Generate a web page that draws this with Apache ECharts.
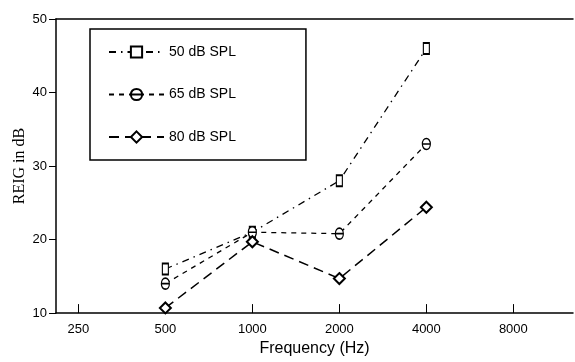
<!DOCTYPE html>
<html>
<head>
<meta charset="utf-8">
<script src="https://cdn.jsdelivr.net/npm/echarts@6/dist/echarts.min.js"></script>
<style>html,body{margin:0;padding:0;background:#fff}#c{width:575px;height:362px}</style>
</head>
<body>
<div id="c"></div>
<script>
const frequencies = [500, 1000, 2000, 4000];
const tickFrequencies = [250, 500, 1000, 2000, 4000, 8000];
const seriesNames = ['50 dB SPL', '65 dB SPL', '80 dB SPL'];
const spl50 = [16, 21, 28, 46];
const spl65 = [14, 21, 20.8, 33];
const spl80 = [10.7, 19.7, 14.7, 24.4];
const yTicks = [10, 20, 30, 40, 50];

const lg = v => Math.log2(v);
const pts = arr => frequencies.map((f, i) => [lg(f), arr[i]]);
const thetaPath = 'path://M5,0 C8,0 10,3 10,7 C10,11 8,14 5,14 C2,14 0,11 0,7 C0,3 2,0 5,0 Z M0.5,7 L9.5,7';

const sans = 'Liberation Sans, Arial, Helvetica, sans-serif';
const chart = echarts.init(document.getElementById('c'), null, {renderer: 'canvas'});
chart.setOption({
  backgroundColor: '#fff',
  animation: false,
  grid: {left: 56, right: 2, top: 19, bottom: 42, containLabel: false},
  legend: {
    left: 90, top: 29,
    orient: 'vertical',
    itemWidth: 55, itemHeight: 14, itemGap: 28.5,
    padding: [16, 70, 16, 18],
    borderColor: '#000', borderWidth: 1.5,
    textStyle: {fontFamily: sans, fontSize: 14, color: '#000'},
    data: seriesNames
  },
  xAxis: [{
    type: 'value',
    min: lg(250) - 22.5 / 87.5,
    max: 13 + 57 / 87.5,
    name: 'Frequency (Hz)',
    nameLocation: 'middle',
    nameGap: 25,
    nameTextStyle: {fontFamily: sans, fontSize: 16, color: '#000'},
    axisLine: {lineStyle: {color: '#000', width: 1.5}},
    axisTick: {inside: true, length: 9, lineStyle: {color: '#000', width: 1}, customValues: tickFrequencies.map(lg)},
    axisLabel: {fontFamily: sans, fontSize: 13, color: '#000', margin: 10,
      customValues: tickFrequencies.map(lg),
      formatter: v => String(Math.round(Math.pow(2, v)))},
    splitLine: {show: false}
  }, {
    type: 'value',
    position: 'top',
    min: lg(250) - 22.5 / 87.5,
    max: 13 + 57 / 87.5,
    axisLine: {show: true, onZero: false, lineStyle: {color: '#000', width: 1.5}},
    axisTick: {show: false},
    axisLabel: {show: false},
    splitLine: {show: false}
  }],
  yAxis: {
    type: 'value',
    min: 10, max: 50, interval: 10,
    name: 'REIG in dB',
    nameLocation: 'middle',
    nameGap: 28,
    nameMoveOverlap: false,
    nameTextStyle: {fontFamily: 'Liberation Serif, Times New Roman, serif', fontSize: 16, color: '#000'},
    axisLine: {show: true, lineStyle: {color: '#000', width: 1.5}},
    axisTick: {show: true, length: 7, lineStyle: {color: '#000', width: 1}},
    axisLabel: {fontFamily: sans, fontSize: 13, color: '#000', margin: 9,
      customValues: yTicks},
    splitLine: {show: false}
  },
  series: [{
    name: seriesNames[0],
    type: 'line',
    data: pts(spl50),
    symbol: 'rect', symbolSize: [6, 11],
    itemStyle: {color: '#fff', borderColor: '#000', borderWidth: 1.5},
    lineStyle: {color: '#000', width: 1.3, type: [7, 5, 1.5, 5]},
    z: 3
  }, {
    name: seriesNames[1],
    type: 'line',
    data: pts(spl65),
    symbol: thetaPath, symbolSize: [8, 11],
    itemStyle: {color: '#fff', borderColor: '#000', borderWidth: 1.4},
    lineStyle: {color: '#000', width: 1.3, type: [5, 5]},
    z: 3
  }, {
    name: seriesNames[2],
    type: 'line',
    data: pts(spl80),
    symbol: 'diamond', symbolSize: 11,
    itemStyle: {color: '#fff', borderColor: '#000', borderWidth: 2},
    lineStyle: {color: '#000', width: 1.5, type: [10, 6]},
    z: 3
  }]
});
</script>
</body>
</html>
